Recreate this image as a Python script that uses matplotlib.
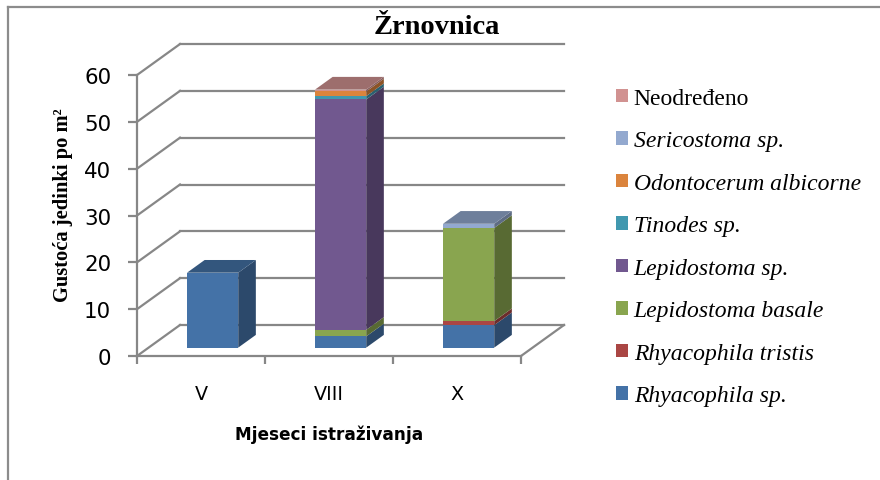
import matplotlib
matplotlib.use("Agg")
import matplotlib.pyplot as plt
from matplotlib.patches import Polygon, Patch
from matplotlib.lines import Line2D
import numpy as np

# data: months and densities per species (stacked bottom -> top)
months = ["V", "VIII", "X"]
species = ["Rhyacophila sp.", "Rhyacophila tristis", "Lepidostoma basale",
           "Lepidostoma sp.", "Tinodes sp.", "Odontocerum albicorne",
           "Sericostoma sp.", "Neodređeno"]
rhyacophila_sp = [16.0, 2.4, 4.8]
rhyacophila_tristis = [0.0, 0.0, 0.85]
lepidostoma_basale = [0.0, 1.4, 19.9]
lepidostoma_sp = [0.0, 49.2, 0.0]
tinodes_sp = [0.0, 0.7, 0.0]
odontocerum_albicorne = [0.0, 1.0, 0.0]
sericostoma_sp = [0.0, 0.0, 0.9]
neodredeno = [0.0, 0.4, 0.0]
series = [rhyacophila_sp, rhyacophila_tristis, lepidostoma_basale, lepidostoma_sp,
          tinodes_sp, odontocerum_albicorne, sericostoma_sp, neodredeno]
colors = ["#4472A7", "#AA4644", "#89A54F", "#71588F",
          "#4198AF", "#DB843D", "#93A9CF", "#D19291"]
yticks = [0, 10, 20, 30, 40, 50, 60]

gray = "#878787"
serif = "Liberation Serif"

# fake 3d depth (in data units)
DX = 0.336
DY = 6.62
f0 = 0.27   # where the bar front sits inside the depth
bd = 0.41   # bar depth fraction
bw = 0.4


def shade(c, k):
    r, g, b = matplotlib.colors.to_rgb(c)
    return (r * k, g * k, b * k)


fig = plt.figure(figsize=(8.8, 4.81), dpi=100)
ax = fig.add_axes([137 / 880, 124 / 481, 448 / 880, 327.8 / 481])
ax.set_xlim(-0.5, 3.0)
ax.set_ylim(0, 70)
ax.patch.set_visible(False)

# back wall gridlines + left wall diagonals
for v in yticks:
    ax.plot([-0.5 + DX, 2.5 + DX], [v + DY, v + DY], color=gray, lw=1.6, zorder=1, clip_on=False)
    ax.plot([-0.5, -0.5 + DX], [v, v + DY], color=gray, lw=1.6, zorder=1, clip_on=False)
# floor right edge
ax.plot([2.5, 2.5 + DX], [0, DY], color=gray, lw=1.6, zorder=1, clip_on=False)

# bars
x = np.arange(len(months))
cum = np.zeros(len(months))
for vals, c in zip(series, colors):
    vals = np.array(vals)
    for i in range(len(months)):
        if vals[i] <= 0:
            continue
        xc = x[i] + f0 * DX
        y0 = cum[i] + f0 * DY
        y1 = y0 + vals[i]
        ax.bar(xc, vals[i], width=bw, bottom=y0, color=c, linewidth=0, zorder=3)
        xr = xc + bw / 2
        side = [(xr, y0), (xr + bd * DX, y0 + bd * DY),
                (xr + bd * DX, y1 + bd * DY), (xr, y1)]
        ax.add_patch(Polygon(side, closed=True, facecolor=shade(c, 0.64),
                             edgecolor="none", zorder=3, clip_on=False))
    cum += vals

# top faces, coloured by the top segment of each bar
for i in range(len(months)):
    top_c = None
    for vals, c in zip(series, colors):
        if vals[i] > 0:
            top_c = c
    xc = x[i] + f0 * DX
    y1 = cum[i] + f0 * DY
    xl, xr = xc - bw / 2, xc + bw / 2
    top = [(xl, y1), (xr, y1), (xr + bd * DX, y1 + bd * DY), (xl + bd * DX, y1 + bd * DY)]
    ax.add_patch(Polygon(top, closed=True, facecolor=shade(top_c, 0.75),
                         edgecolor="none", zorder=3, clip_on=False))

# axes
for s in ["top", "right"]:
    ax.spines[s].set_visible(False)
ax.spines["left"].set_bounds(0, 60)
ax.spines["bottom"].set_bounds(-0.5, 2.5)
for s in ["left", "bottom"]:
    ax.spines[s].set_color(gray)
    ax.spines[s].set_linewidth(1.6)
ax.set_yticks(yticks)
ax.tick_params(axis="y", length=6.5, width=1.6, color=gray, pad=12, labelsize=15.4)
ax.set_xticks(x)
ax.set_xticklabels(months)
ax.set_xticks([-0.5, 0.5, 1.5, 2.5], minor=True)
ax.tick_params(axis="x", which="major", length=0, pad=20.5, labelsize=13.8)
ax.tick_params(axis="x", which="minor", length=6, width=1.6, color=gray)

ax.set_xlabel("Mjeseci istraživanja", fontsize=12.2, fontweight="bold", va="center")
ax.xaxis.set_label_coords((329 - 137) / 448, (46 - 124) / 327.8)
ax.set_ylabel("Gustoća jedinki po m²", family=serif, fontsize=14.8, fontweight="bold", va="center")
ax.yaxis.set_label_coords((63 - 137) / 448, (276 - 124) / 327.8)

fig.text(437 / 880, 1 - 28 / 481, "Žrnovnica", family=serif, fontsize=20.5,
         fontweight="bold", ha="center", va="center")

# legend (top entry = last stacked series)
handles = [Patch(facecolor=c, edgecolor="none") for c in colors][::-1]
labels = species[::-1]
leg = fig.legend(handles, labels, loc="upper left", bbox_to_anchor=(616 / 880, 1 - 89 / 481),
                 frameon=False, prop={"family": serif, "size": 17},
                 handlelength=0.5, handleheight=0.5, handletextpad=0.25,
                 labelspacing=0.91, borderpad=0, borderaxespad=0)
for t in leg.get_texts()[1:]:
    t.set_fontstyle("italic")

# chart area border (cropped at right and bottom)
fig.add_artist(Line2D([8 / 880, 8 / 880], [0, 1 - 8 / 481], color="#8c8c8c", lw=1.6))
fig.add_artist(Line2D([8 / 880, 1], [1 - 8 / 481, 1 - 8 / 481], color="#8c8c8c", lw=1.6))

fig.savefig("out.png", dpi=100)
